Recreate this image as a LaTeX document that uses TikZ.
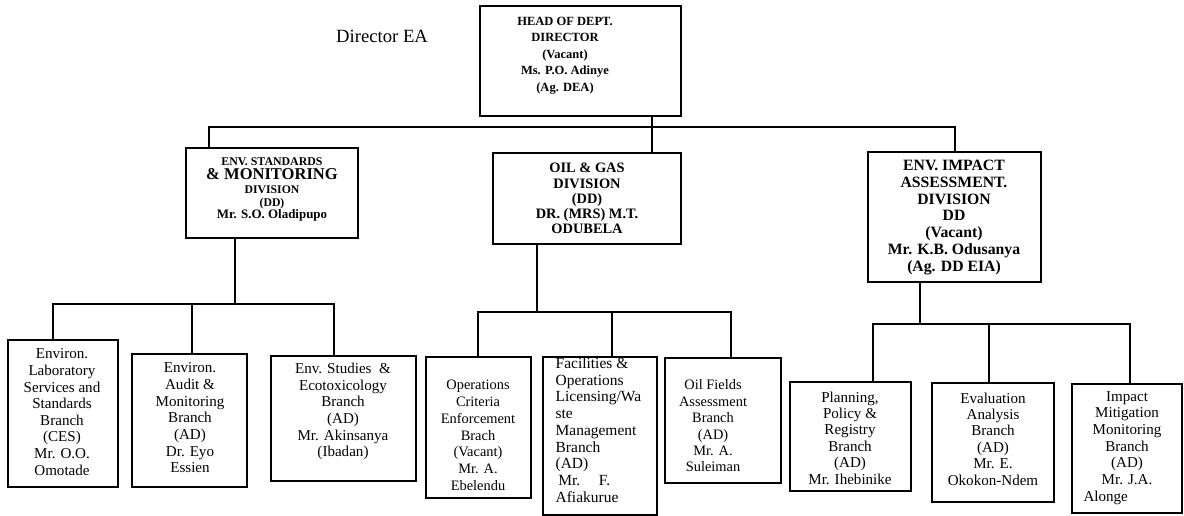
\documentclass[tikz,border=0pt]{standalone}
\usepackage{fontspec}
\setmainfont{Liberation Serif}
\begin{document}
\begin{tikzpicture}[x=0.75pt,y=-0.75pt,
  line width=1pt,
  box/.style 2 args={draw, line width=1.2pt, inner sep=0pt, outer sep=0pt,
    minimum width=0.75*#1pt, minimum height=0.75*#2pt},
  bt/.style 2 args={inner sep=0pt, align=center, font=\bfseries\fontsize{#1pt}{#2pt}\selectfont},
  rt/.style 2 args={inner sep=0pt, align=center, font=\fontsize{#1pt}{#2pt}\selectfont},
  ln/.style={inner sep=0pt, anchor=base}]
\useasboundingbox (0,0) rectangle (1184,516);

% title
\node[rt={14}{16}] (title) at (382,36) {Director EA};

% boxes
\node[box={201}{110}] (head) at (580.5,61) {};
\node[box={172}{90}] (envstd) at (272,193) {};
\node[box={188}{91}] (oil) at (587,198.5) {};
\node[box={173}{130}] (eia) at (954.5,217) {};

\node[box={110}{147}] (lab) at (63,413.5) {};
\node[box={115}{133}] (audit) at (189.5,420.5) {};
\node[box={145}{125}] (studies) at (343.5,418.5) {};
\node[box={105}{141}] (ops) at (478.5,427.5) {};
\node[box={114}{158}] (fac) at (600,436) {};
\node[box={116}{125}] (oilf) at (723,420.5) {};
\node[box={121}{109}] (plan) at (850.5,436.5) {};
\node[box={122}{119}] (eval) at (993,442.5) {};
\node[box={110}{129}] (imp) at (1127,448.5) {};

% box texts
\node[bt={9.4}{12.3}] (headt) at (565,55.5) {HEAD OF DEPT.\\DIRECTOR\\(Vacant)\\Ms. P.O. Adinye\\(Ag. DEA)};

\node[ln, font=\bfseries\fontsize{8.9pt}{10pt}\selectfont] (env1) at (272,165.6) {ENV. STANDARDS};
\node[ln, font=\bfseries\fontsize{12.4pt}{14pt}\selectfont] (env2) at (272,179.8) {\& MONITORING};
\node[ln, font=\bfseries\fontsize{8.8pt}{10pt}\selectfont] (env3) at (272,193.9) {DIVISION};
\node[ln, font=\bfseries\fontsize{8.8pt}{10pt}\selectfont] (env4) at (272,206.2) {(DD)};
\node[ln, font=\bfseries\fontsize{9.7pt}{11pt}\selectfont] (env5) at (272,218.3) {Mr. S.O. Oladipupo};

\node[bt={10.8}{11.4}] (oilt) at (587,198.5) {OIL \& GAS\\DIVISION\\(DD)\\DR. (MRS) M.T.\\ODUBELA};
\node[bt={11.8}{12.6}] (eiat) at (954,217.5) {ENV. IMPACT\\ASSESSMENT.\\DIVISION\\DD\\(Vacant)\\Mr. K.B. Odusanya\\(Ag. DD EIA)};

\node[rt={11.3}{12.45}] (labt) at (62,412) {Environ.\\Laboratory\\Services and\\Standards\\Branch\\(CES)\\Mr. O.O.\\Omotade};
\node[rt={11.3}{12.5}] (auditt) at (190,418) {Environ.\\Audit \&\\Monitoring\\Branch\\(AD)\\Dr. Eyo\\Essien};
\node[rt={11.3}{12.45}] (studiest) at (343,411.5) {Env. Studies~~\&\\Ecotoxicology\\Branch\\(AD)\\Mr. Akinsanya\\(Ibadan)};
\node[rt={10.8}{12.6}] (opst) at (478,435.5) {Operations\\Criteria\\Enforcement\\Brach\\(Vacant)\\Mr. A.\\Ebelendu};
\node[inner sep=0pt, align=left, anchor=west, font=\fontsize{11.6pt}{12.55pt}\selectfont] (fact) at (555,430)
  {Facilities \&\\Operations\\Licensing/Wa\\ste\\Management\\Branch\\(AD)\\\hspace*{2pt}Mr.\hspace{14pt}F.\\Afiakurue};
\node[rt={10.8}{12.3}] (oilft) at (713,426) {Oil Fields\\Assessment\\Branch\\(AD)\\Mr. A.\\Suleiman};
\node[rt={11.3}{12.3}] (plant) at (850,438) {Planning,\\Policy \&\\Registry\\Branch\\(AD)\\Mr. Ihebinike};
\node[rt={11.3}{12.3}] (evalt) at (993,439) {Evaluation\\Analysis\\Branch\\(AD)\\Mr. E.\\Okokon-Ndem};
\node[rt={11.3}{12.5}] (impt) at (1127,448) {Impact\\Mitigation\\Monitoring\\Branch\\(AD)\\Mr. J.A.\hspace*{7pt}\\Alonge\hspace*{32pt}};

% bus coordinates
\coordinate (topdrop) at (652,127);
\coordinate (busL) at (209,127);
\coordinate (busR) at (955,127);
\coordinate (envdrop) at (235,304);
\coordinate (envL) at (53,304);
\coordinate (envM) at (192,304);
\coordinate (envR) at (334,304);
\coordinate (oildrop) at (537,312);
\coordinate (oilL) at (478,312);
\coordinate (oilM) at (612,312);
\coordinate (oilR) at (731,312);
\coordinate (eiadrop) at (920,324);
\coordinate (eiaL) at (873,324);
\coordinate (eiaM) at (989,324);
\coordinate (eiaR) at (1130,324);

% top level
\draw (head.south -| topdrop) -- (oil.north -| topdrop);
\draw (envstd.north -| busL) -- (busL) -- (busR) -- (eia.north -| busR);

% standards and monitoring branches
\draw (envstd.south -| envdrop) -- (envdrop);
\draw (lab.north -| envL) -- (envL) -- (envR) -- (studies.north -| envR);
\draw (envM) -- (audit.north -| envM);

% oil and gas branches
\draw (oil.south -| oildrop) -- (oildrop);
\draw (ops.north -| oilL) -- (oilL) -- (oilR) -- (oilf.north -| oilR);
\draw (oilM) -- (fac.north -| oilM);

% impact assessment branches
\draw (eia.south -| eiadrop) -- (eiadrop);
\draw (plan.north -| eiaL) -- (eiaL) -- (eiaR) -- (imp.north -| eiaR);
\draw (eiaM) -- (eval.north -| eiaM);
\end{tikzpicture}
\end{document}
